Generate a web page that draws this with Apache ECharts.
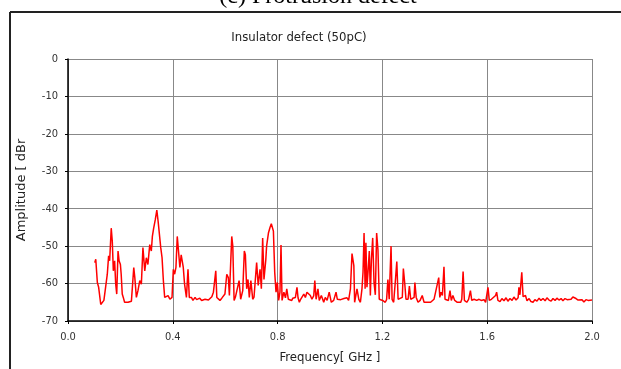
<!DOCTYPE html>
<html>
<head>
<meta charset="utf-8">
<script src="https://cdn.jsdelivr.net/npm/echarts@6/dist/echarts.min.js"></script>
<style>html,body{margin:0;padding:0;background:#fff;}#c{width:621px;height:369px;}</style>
</head>
<body>
<div id="c"></div>
<script>
const xTicks = [0, 0.4, 0.8, 1.2, 1.6, 2.0];
const yTicks = [0, -10, -20, -30, -40, -50, -60, -70];

const freq = [
0.102,0.106,0.112,0.117,0.125,0.130,0.137,0.142,0.150,0.155,0.159,0.165,0.169,0.173,0.178,0.182,0.186,0.191,0.195,0.200,
0.203,0.207,0.211,0.216,0.222,0.229,0.236,0.242,0.251,0.255,0.261,0.267,0.274,0.280,0.286,0.293,0.299,0.305,0.312,0.318,
0.322,0.327,0.333,0.339,0.344,0.348,0.354,0.359,0.364,0.369,0.375,0.382,0.389,0.397,0.402,0.407,0.412,0.417,0.423,0.427,
0.432,0.440,0.445,0.452,0.458,0.463,0.471,0.477,0.485,0.491,0.497,0.503,0.510,0.517,0.523,0.530,0.536,0.542,0.549,0.555,
0.558,0.564,0.568,0.574,0.580,0.587,0.593,0.599,0.606,0.612,0.616,0.621,0.625,0.629,0.634,0.639,0.644,0.653,0.659,0.667,
0.673,0.677,0.682,0.687,0.692,0.698,0.705,0.710,0.714,0.720,0.726,0.733,0.738,0.743,0.748,0.755,0.758,0.765,0.771,0.776,
0.781,0.784,0.789,0.794,0.799,0.804,0.809,0.813,0.817,0.824,0.830,0.835,0.841,0.848,0.854,0.858,0.864,0.868,0.874,0.878,
0.883,0.888,0.893,0.900,0.906,0.912,0.919,0.925,0.931,0.938,0.942,0.947,0.954,0.959,0.967,0.976,0.982,0.989,0.997,1.005,
1.014,1.023,1.028,1.035,1.041,1.046,1.053,1.058,1.065,1.071,1.078,1.084,1.091,1.094,1.103,1.110,1.116,1.122,1.126,1.130,
1.134,1.137,1.141,1.145,1.150,1.154,1.158,1.163,1.168,1.173,1.178,1.183,1.188,1.195,1.201,1.206,1.211,1.216,1.221,1.226,
1.233,1.237,1.243,1.249,1.255,1.260,1.267,1.276,1.280,1.285,1.290,1.298,1.303,1.308,1.314,1.321,1.324,1.329,1.336,1.344,
1.352,1.359,1.365,1.371,1.378,1.384,1.390,1.397,1.403,1.410,1.415,1.419,1.424,1.429,1.435,1.439,1.445,1.452,1.458,1.463,
1.469,1.476,1.486,1.492,1.499,1.503,1.508,1.513,1.522,1.529,1.536,1.541,1.550,1.560,1.569,1.577,1.588,1.594,1.603,1.608,
1.616,1.623,1.632,1.636,1.641,1.649,1.656,1.664,1.672,1.679,1.687,1.695,1.702,1.710,1.718,1.721,1.725,1.732,1.737,1.746,
1.752,1.760,1.767,1.775,1.782,1.790,1.798,1.805,1.813,1.821,1.828,1.836,1.844,1.851,1.859,1.866,1.874,1.882,1.889,1.897,
1.905,1.912,1.920,1.927,1.934,1.939,1.947,1.954,1.962,1.969,1.977,1.985,1.992,2.000
];

const amplitude = [
-54.4,-53.5,-59.7,-61,-65.6,-65.4,-64.5,-65,-57.5,-52.6,-53.9,-45.2,-48.7,-56.6,-53.9,-60.1,-62.8,-51.3,-53.9,-54.9,
-57.5,-62.8,-63.7,-65,-64.6,-65,-64.6,-64.7,-55.7,-58.4,-63.7,-61.9,-59.2,-60.2,-50.4,-56.6,-53.1,-54.9,-49.6,-51.3,
-47.4,-45.2,-43,-40.4,-43.4,-43,-50.4,-53.1,-59.2,-63.7,-64.2,-63.2,-64.2,-63.7,-56.2,-57.5,-55.7,-47.4,-52.3,-55.7,
-52.3,-55.7,-60.2,-63.7,-56.2,-63.7,-63.7,-64.5,-63.7,-64.3,-64.5,-63.9,-64.5,-64,-64.2,-63.8,-64.4,-64.2,-63.5,-62.3,
-62.8,-56.6,-63.7,-64.2,-64.5,-63.9,-63.7,-62.8,-57.5,-58.4,-63.2,-54.4,-47.4,-50,-64.5,-63.6,-63.2,-59.2,-64.2,-61.9,
-51.3,-52.3,-61.4,-58.9,-63.7,-59.2,-64.2,-63.6,-63.7,-54.4,-60.5,-56.2,-61.4,-47.8,-58.9,-53.6,-50,-46.5,-45,-44,
-43.6,-46,-57,-62.3,-59.7,-64.5,-62.3,-49.7,-64.5,-62.3,-63.8,-61.4,-64.2,-63.9,-64.5,-63.9,-64.2,-63.7,-61,-63.8,
-65,-64.2,-63.7,-62.8,-63.7,-62.3,-62.8,-63.2,-64.2,-63.2,-59.2,-64.2,-61.4,-64.5,-63.2,-65,-63.7,-64.5,-62.3,-65,
-64.5,-62.3,-64.2,-63.7,-64.3,-64.5,-64,-64.5,-63.8,-64.5,-61.4,-52,-55.2,-65,-61.4,-64.2,-65,-61.4,-57,-46.5,
-61.4,-49.1,-61,-57,-51.3,-63.2,-53.6,-47.8,-59.7,-63,-46.5,-50.9,-64.2,-63.8,-64.5,-64,-65,-64.3,-58.9,-64.2,
-50,-64.2,-65,-59.7,-54.1,-64.2,-64.5,-63.7,-56,-59.7,-64.2,-64.2,-60.7,-64.2,-64.5,-63.7,-59.7,-63.7,-65,-64.5,
-63.2,-65,-64.5,-65,-64.5,-65,-64.5,-64.2,-62.3,-61.9,-58.4,-63.7,-62.3,-63.2,-55.5,-64.2,-63.7,-64.5,-61.9,-64.5,
-63.2,-64.5,-65,-64.5,-65,-64.2,-56.8,-64.5,-65,-64.2,-61.9,-64.5,-64.2,-64.5,-64.2,-64.5,-64.3,-65,-61,-64.5,
-64.2,-64.5,-63.2,-62.3,-64.5,-64.8,-64,-64.6,-63.8,-64.7,-64,-64.5,-63.6,-64.4,-63.8,-61,-63,-57,-63.5,-63.2,
-64.6,-64,-64.8,-65,-64.3,-64.7,-63.9,-64.5,-64,-64.6,-63.8,-64.4,-64.7,-64,-64.5,-63.9,-64.4,-64,-64.6,-64,
-64.3,-63.8,-64.2,-63.6,-63.2,-64,-64.4,-64.8,-64.3,-64.9,-64.3,-64.5,-64.3,-64.4
];

const chartTitle = 'Insulator defect (50pC)';
const figureTitle = '(c) Protrusion defect';
const xName = 'Frequency[ GHz ]';
const yName = 'Amplitude [ dBr';

const pts = freq.map((f, i) => [f, amplitude[i]]);
const narrow = "'DejaVu Sans Condensed','Liberation Sans Narrow','Liberation Sans',sans-serif";

const chart = echarts.init(document.getElementById('c'), null, {renderer: 'canvas'});
chart.setOption({
  animation: false,
  backgroundColor: '#fff',
  grid: {left: 68, right: 29, top: 59, bottom: 45, containLabel: false},
  graphic: [
    {type: 'line', shape: {x1: 10, y1: 12, x2: 621, y2: 12}, style: {stroke: '#222', lineWidth: 2}},
    {type: 'line', shape: {x1: 10, y1: 12, x2: 10, y2: 369}, style: {stroke: '#222', lineWidth: 2}},
    {type: 'text', x: 318, y: -3, style: {text: figureTitle, font: "24px 'Liberation Serif', serif", fill: '#000', align: 'center', verticalAlign: 'middle'}},
    {type: 'text', x: 299, y: 38, style: {text: chartTitle, font: "13px " + narrow, fill: '#222', align: 'center', verticalAlign: 'middle'}}
  ],
  xAxis: {
    type: 'value', min: xTicks[0], max: xTicks[xTicks.length - 1], interval: 0.4,
    name: xName, nameLocation: 'middle', nameGap: 30,
    nameTextStyle: {fontFamily: narrow, fontSize: 13, color: '#222'},
    axisLine: {show: true, onZero: false, lineStyle: {color: '#000', width: 1.5}},
    axisTick: {show: true, length: 3, lineStyle: {color: '#000'}},
    axisLabel: {margin: 11, fontFamily: narrow, fontSize: 11, color: '#333', formatter: v => v.toFixed(1)},
    splitLine: {show: true, lineStyle: {color: '#888', width: 1}}
  },
  yAxis: {
    type: 'value', min: yTicks[yTicks.length - 1], max: yTicks[0], interval: 10,
    name: yName, nameLocation: 'middle', nameGap: 40,
    nameTextStyle: {fontFamily: "'DejaVu Sans',sans-serif", fontSize: 13, color: '#222'},
    axisLine: {show: true, onZero: false, lineStyle: {color: '#000', width: 1.5}},
    axisTick: {show: true, length: 3, lineStyle: {color: '#000'}},
    axisLabel: {margin: 10, fontFamily: narrow, fontSize: 11, color: '#333'},
    splitLine: {show: true, lineStyle: {color: '#888', width: 1}}
  },
  series: [{
    type: 'line', data: pts, showSymbol: false, symbol: 'none', smooth: false,
    lineStyle: {color: '#ff0000', width: 1.5}, itemStyle: {color: '#ff0000'}
  }]
});
</script>
</body>
</html>
